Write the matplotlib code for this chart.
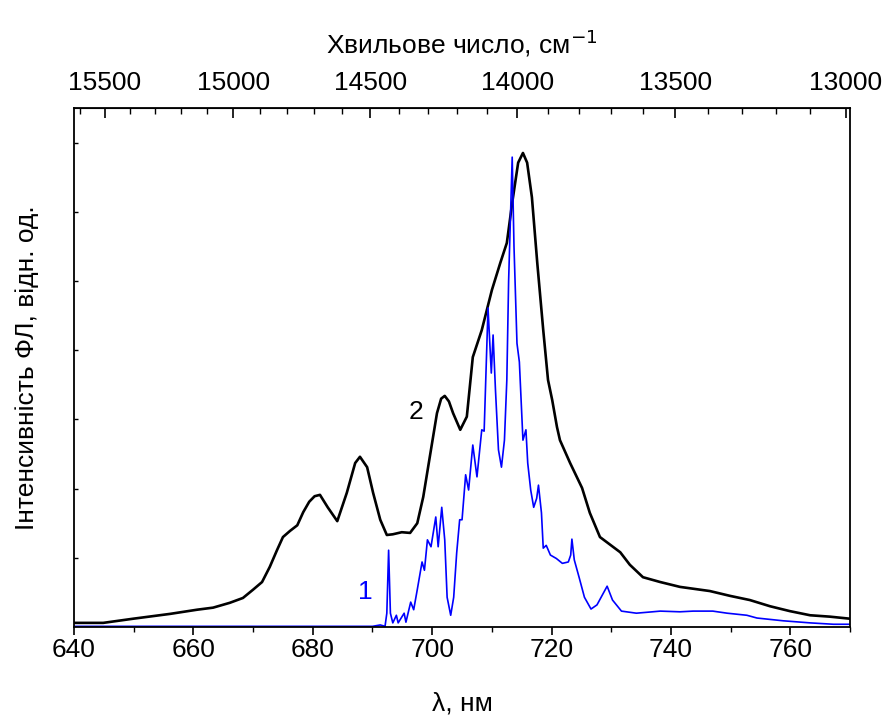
import matplotlib
matplotlib.use("Agg")
import matplotlib.pyplot as plt
import numpy as np
from matplotlib.ticker import FixedLocator, NullFormatter

plt.rcParams['font.family'] = ['Liberation Sans', 'DejaVu Sans']

# curve 2 (black)
lam2 = [640.0, 644.9, 649.9, 656.1, 660.6, 663.3, 666.1, 668.3, 670.0, 671.5,
        672.8, 674.0, 675.0, 676.2, 677.4, 678.4, 679.4, 680.3, 681.2, 682.5, 684.1,
        685.7, 687.1, 687.9, 689.1, 690.1, 691.3, 692.4, 693.4, 694.9, 696.3,
        697.5, 698.5, 699.6, 700.8, 701.5, 702.1, 702.8, 703.5, 704.7, 705.8, 706.8, 708.3,
        710.0, 711.4, 712.5, 713.4, 714.4, 715.2, 715.9, 716.7, 717.6, 718.6,
        719.4, 720.1, 720.9, 721.4, 723.1, 725.1, 726.4, 728.1, 729.8, 731.5,
        733.1, 735.3, 738.2, 741.5, 746.5, 749.9, 753.2, 756.6, 759.9, 763.3,
        766.6, 770.0]
int2 = [0.06, 0.06, 0.12, 0.19, 0.25, 0.28, 0.35, 0.42, 0.54, 0.65,
        0.87, 1.11, 1.30, 1.39, 1.47, 1.66, 1.81, 1.89, 1.91, 1.73, 1.53,
        1.94, 2.37, 2.46, 2.31, 1.94, 1.55, 1.33, 1.34, 1.37, 1.36,
        1.50, 1.88, 2.46, 3.09, 3.30, 3.34, 3.26, 3.09, 2.85, 3.04, 3.90, 4.29,
        4.87, 5.26, 5.55, 6.13, 6.71, 6.85, 6.71, 6.21, 5.26, 4.29,
        3.57, 3.28, 2.89, 2.70, 2.37, 2.01, 1.65, 1.30, 1.19, 1.08,
        0.90, 0.72, 0.65, 0.58, 0.52, 0.45, 0.39, 0.30, 0.23, 0.17,
        0.15, 0.12]

# curve 1 (blue)
lam1 = [640.0, 690.0, 691.3, 692.1, 692.4, 692.7, 693.0, 693.4, 694.0, 694.3,
        695.3, 695.6, 696.4, 696.9, 697.5, 698.3, 698.7, 699.2, 699.8, 700.6,
        701.0, 701.6, 702.1, 702.5, 703.1, 703.6, 704.1, 704.6, 705.0, 705.6,
        706.1, 706.8, 707.5, 708.3, 708.7, 709.35, 709.9, 710.2, 710.6, 711.1,
        711.6, 712.1, 712.5, 712.8, 713.4, 713.7, 714.2, 714.6, 715.2, 715.7,
        716.0, 716.5, 717.0, 717.5, 717.8, 718.3, 718.6, 719.1, 719.8, 720.8,
        721.8, 722.8, 723.2, 723.4, 723.8, 724.6, 725.5, 726.6, 727.6, 729.3,
        730.2, 731.7, 734.2, 736.9, 738.2, 741.5, 743.7, 747.0, 749.4, 752.7,
        754.4, 758.8, 763.3, 767.2, 770.0]
int1 = [0.01, 0.01, 0.03, 0.01, 0.20, 1.11, 0.20, 0.06, 0.17, 0.06,
        0.20, 0.07, 0.36, 0.25, 0.54, 0.94, 0.82, 1.26, 1.16, 1.59,
        1.16, 1.73, 1.26, 0.43, 0.17, 0.43, 1.07, 1.55, 1.55, 2.20,
        1.98, 2.63, 2.17, 2.85, 2.83, 4.61, 3.67, 4.22, 3.42, 2.56,
        2.31, 2.70, 3.57, 5.00, 6.79, 5.50, 4.10, 3.83, 2.70, 2.85,
        2.37, 1.98, 1.73, 1.86, 2.05, 1.65, 1.14, 1.18, 1.04, 0.99,
        0.92, 0.94, 1.04, 1.27, 0.97, 0.72, 0.43, 0.26, 0.32, 0.59,
        0.39, 0.23, 0.20, 0.22, 0.23, 0.22, 0.23, 0.23, 0.20, 0.17,
        0.13, 0.09, 0.06, 0.04, 0.04]

wn_major = [15500, 15000, 14500, 14000, 13500, 13000]
wn_minor = list(range(15600, 12900, -100))


def to_wn(x):
    x = np.asarray(x, dtype=float)
    with np.errstate(divide='ignore'):
        return 1e7 / x


fig = plt.figure(figsize=(8.86, 7.18), dpi=100)
ax = fig.add_axes([0.0835, 0.1267, 0.876, 0.7229])

ax.plot(lam2, int2, color='black', lw=1.9)
ax.plot(lam1, int1, color='blue', lw=1.2)

ax.set_xlim(640, 770)
ax.set_ylim(0, 7.5)
ax.set_xticks(np.arange(640, 771, 20))
ax.set_xticks(np.arange(640, 771, 10), minor=True)
ax.set_yticks(np.arange(1, 8))
ax.set_yticklabels([])
ax.tick_params(axis='x', which='major', direction='out', length=6, width=1.2, labelsize=19, pad=2)
ax.tick_params(axis='x', which='minor', direction='out', length=3.5, width=1.0)
ax.tick_params(axis='y', which='major', direction='in', length=3, width=1.0)
for s in ax.spines.values():
    s.set_linewidth(1.3)

ax.set_xlabel("λ, нм", fontsize=19, labelpad=21)
ax.set_ylabel("Інтенсивність ФЛ, відн. од.", fontsize=19, labelpad=22)

ax.text(696.0, 3.0, "2", fontsize=19, color='black')
ax.text(687.5, 0.40, "1", fontsize=19, color='blue')

sec = ax.secondary_xaxis('top', functions=(to_wn, to_wn))
sec.xaxis.set_major_locator(FixedLocator(wn_major))
sec.xaxis.set_minor_locator(FixedLocator(wn_minor))
sec.xaxis.set_minor_formatter(NullFormatter())
sec.tick_params(axis='x', which='major', direction='in', length=7, width=1.2, labelsize=19, pad=9)
sec.tick_params(axis='x', which='minor', direction='in', length=4, width=1.0)
sec.set_xlabel("Хвильове число, см$^{-1}$", fontsize=19, labelpad=13)

fig.savefig("out.png", dpi=100)
